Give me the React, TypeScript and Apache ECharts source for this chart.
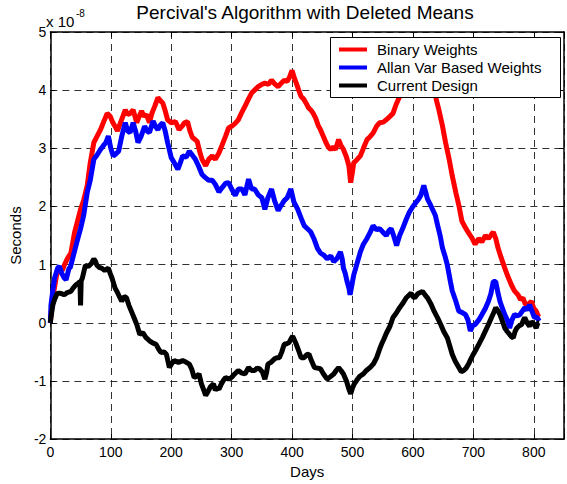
import { useEffect, useRef } from 'react';
import * as echarts from 'echarts';

// ---- Data (values in units of 1e-8 seconds) ----
const redDays = [0, 3, 6, 10, 15, 20, 23, 28, 34, 40, 45, 50, 55, 61, 66, 72, 77, 83, 88, 94, 99, 103, 107, 111, 115, 120, 124, 128, 132, 137, 143, 147, 151, 155, 159, 164, 168, 173, 178, 182, 186, 190, 194, 200, 207, 213, 218, 222, 227, 231, 235, 243, 247, 251, 257, 262, 268, 273, 279, 284, 290, 295, 300, 305, 311, 316, 322, 328, 333, 338, 344, 350, 355, 361, 366, 372, 377, 382, 387, 392, 396, 400, 404, 407, 411, 415, 419, 423, 427, 431, 435, 439, 443, 447, 452, 456, 460, 464, 468, 472, 477, 481, 485, 490, 494, 497, 500, 502, 507, 513, 518, 524, 529, 534, 540, 545, 551, 556, 562, 567, 572, 578, 585, 595, 605, 615, 625, 635, 640, 643, 649, 654, 660, 665, 671, 676, 681, 686, 690, 695, 698, 703, 709, 714, 720, 725, 730, 733, 737, 741, 746, 752, 757, 763, 768, 774, 778, 782, 786, 790, 796, 800, 804, 808];
const redVals = [0, 0.35, 0.55, 0.8, 0.95, 0.9, 0.99, 1.1, 1.2, 1.55, 1.75, 1.95, 2.1, 2.36, 2.75, 3.1, 3.2, 3.32, 3.45, 3.6, 3.55, 3.45, 3.38, 3.3, 3.41, 3.55, 3.66, 3.58, 3.6, 3.66, 3.44, 3.55, 3.64, 3.55, 3.58, 3.44, 3.6, 3.73, 3.87, 3.82, 3.78, 3.65, 3.49, 3.44, 3.46, 3.32, 3.38, 3.44, 3.46, 3.3, 3.19, 3.12, 2.95, 2.81, 2.7, 2.81, 2.87, 2.81, 2.92, 3.05, 3.21, 3.35, 3.38, 3.42, 3.49, 3.6, 3.72, 3.85, 3.95, 4.0, 4.06, 4.1, 4.12, 4.1, 4.17, 4.1, 4.06, 4.12, 4.17, 4.15, 4.23, 4.34, 4.2, 4.12, 4.0, 3.89, 3.85, 3.78, 3.7, 3.66, 3.6, 3.52, 3.4, 3.32, 3.2, 3.1, 3.02, 2.98, 3.02, 2.98, 3.15, 3.05, 2.98, 2.85, 2.7, 2.41, 2.6, 2.75, 2.8, 2.87, 3.0, 3.15, 3.2, 3.26, 3.38, 3.44, 3.45, 3.49, 3.55, 3.6, 3.75, 3.89, 4.1, 4.35, 4.5, 4.55, 4.4, 4.0, 3.78, 3.66, 3.38, 3.1, 2.81, 2.53, 2.24, 2.02, 1.75, 1.65, 1.58, 1.5, 1.45, 1.35, 1.45, 1.39, 1.5, 1.45, 1.52, 1.56, 1.45, 1.28, 1.12, 0.94, 0.8, 0.65, 0.55, 0.48, 0.4, 0.43, 0.32, 0.31, 0.37, 0.25, 0.2, 0.1];

const blueDays = [0, 1, 4, 7, 12, 15, 19, 23, 26, 31, 33, 38, 44, 50, 55, 61, 66, 72, 77, 83, 88, 92, 96, 100, 104, 108, 113, 118, 124, 128, 132, 137, 141, 145, 150, 156, 160, 164, 170, 174, 178, 182, 186, 190, 194, 200, 205, 211, 215, 219, 225, 230, 235, 240, 245, 251, 256, 262, 268, 273, 279, 284, 290, 295, 300, 306, 311, 317, 322, 328, 333, 338, 344, 350, 355, 360, 366, 371, 377, 382, 387, 392, 398, 403, 409, 415, 420, 425, 431, 436, 442, 447, 453, 458, 464, 469, 474, 480, 483, 485, 488, 491, 494, 496, 499, 502, 507, 513, 518, 524, 529, 534, 540, 545, 551, 556, 560, 564, 568, 573, 578, 583, 589, 594, 600, 605, 609, 613, 618, 621, 624, 628, 632, 637, 641, 645, 649, 653, 657, 662, 665, 671, 676, 681, 687, 691, 695, 699, 703, 709, 714, 720, 725, 729, 733, 737, 741, 744, 748, 752, 756, 760, 764, 768, 773, 777, 781, 785, 789, 793, 797, 801, 805, 809];
const blueVals = [0, 0.3, 0.55, 0.77, 0.94, 0.97, 0.85, 0.77, 0.74, 0.94, 0.95, 1.15, 1.39, 1.62, 1.84, 2.24, 2.45, 2.81, 2.88, 2.98, 3.05, 3.1, 3.21, 3.0, 2.87, 2.9, 2.95, 3.2, 3.44, 3.3, 3.27, 3.44, 3.3, 3.1, 3.2, 3.38, 3.3, 3.27, 3.47, 3.38, 3.32, 3.4, 3.44, 3.3, 3.1, 2.84, 2.75, 2.64, 2.75, 2.87, 2.85, 2.95, 2.88, 2.81, 2.7, 2.55, 2.5, 2.45, 2.45, 2.38, 2.25, 2.32, 2.4, 2.41, 2.3, 2.19, 2.3, 2.3, 2.2, 2.47, 2.3, 2.3, 2.2, 2.15, 1.95, 2.15, 2.3, 2.1, 1.93, 2.02, 2.1, 2.15, 2.3, 2.08, 1.96, 1.8, 1.67, 1.62, 1.56, 1.45, 1.28, 1.2, 1.16, 1.1, 1.15, 1.05, 1.1, 1.22, 1.1, 0.94, 0.85, 0.71, 0.6, 0.48, 0.65, 0.82, 1.0, 1.22, 1.35, 1.45, 1.55, 1.67, 1.6, 1.62, 1.55, 1.5, 1.58, 1.62, 1.5, 1.33, 1.5, 1.62, 1.78, 1.9, 2.0, 2.07, 2.12, 2.19, 2.36, 2.25, 2.13, 2.05, 1.96, 1.85, 1.67, 1.5, 1.28, 1.15, 0.99, 0.71, 0.55, 0.37, 0.2, 0.18, 0.14, 0.05, -0.14, -0.05, -0.03, 0.05, 0.14, 0.25, 0.37, 0.5, 0.71, 0.71, 0.5, 0.37, 0.25, 0.14, 0.05, -0.09, 0.05, 0.14, 0.12, 0.14, 0.2, 0.26, 0.22, 0.31, 0.2, 0.09, 0.1, 0.03];

const blackDays = [0, 1, 4, 7, 11, 15, 19, 23, 28, 34, 38, 42, 46, 49, 50, 51, 53, 58, 63, 68, 72, 75, 77, 81, 85, 90, 96, 99, 102, 107, 112, 118, 122, 126, 130, 134, 138, 143, 148, 153, 158, 164, 170, 175, 179, 183, 188, 192, 197, 201, 205, 212, 219, 225, 230, 234, 238, 242, 246, 250, 254, 257, 261, 265, 270, 273, 276, 279, 283, 287, 290, 295, 300, 305, 311, 316, 322, 328, 333, 338, 342, 346, 351, 355, 358, 360, 365, 371, 375, 379, 383, 387, 391, 395, 398, 401, 404, 407, 412, 415, 420, 424, 428, 432, 437, 442, 447, 452, 458, 463, 469, 473, 477, 481, 485, 490, 494, 497, 500, 503, 507, 512, 518, 523, 529, 535, 540, 545, 548, 552, 556, 562, 567, 572, 578, 583, 589, 593, 597, 600, 603, 608, 612, 616, 620, 624, 630, 635, 641, 646, 651, 657, 661, 665, 670, 676, 680, 684, 688, 692, 696, 700, 705, 709, 715, 720, 725, 730, 734, 737, 741, 744, 748, 752, 756, 760, 763, 766, 769, 772, 776, 780, 783, 785, 789, 793, 796, 798, 801, 804, 807, 809];
const blackVals = [0, 0.09, 0.3, 0.4, 0.5, 0.51, 0.5, 0.48, 0.52, 0.54, 0.6, 0.65, 0.68, 0.71, 0.3, 0.72, 0.77, 0.99, 0.97, 1.02, 1.1, 1.05, 0.99, 0.95, 0.94, 0.9, 0.94, 0.85, 0.77, 0.6, 0.5, 0.37, 0.45, 0.43, 0.3, 0.2, 0.1, -0.03, -0.2, -0.17, -0.25, -0.31, -0.35, -0.37, -0.45, -0.51, -0.5, -0.54, -0.77, -0.7, -0.65, -0.68, -0.65, -0.68, -0.71, -0.8, -0.94, -0.92, -0.88, -1.05, -1.16, -1.25, -1.18, -1.1, -1.05, -1.16, -1.12, -1.14, -1.05, -0.98, -0.94, -0.97, -0.94, -0.88, -0.82, -0.86, -0.88, -0.77, -0.82, -0.82, -0.78, -0.79, -0.85, -0.97, -0.85, -0.71, -0.68, -0.62, -0.6, -0.6, -0.5, -0.37, -0.36, -0.34, -0.28, -0.23, -0.3, -0.37, -0.51, -0.6, -0.6, -0.55, -0.54, -0.65, -0.77, -0.78, -0.79, -0.88, -0.97, -0.93, -0.88, -0.82, -0.77, -0.82, -0.88, -1.0, -1.14, -1.22, -1.12, -1.05, -0.99, -0.92, -0.88, -0.82, -0.77, -0.7, -0.6, -0.45, -0.37, -0.28, -0.18, -0.06, 0.09, 0.16, 0.26, 0.33, 0.43, 0.47, 0.51, 0.45, 0.43, 0.5, 0.52, 0.54, 0.48, 0.43, 0.32, 0.2, 0.08, -0.03, -0.15, -0.26, -0.4, -0.54, -0.66, -0.77, -0.84, -0.82, -0.78, -0.71, -0.62, -0.54, -0.45, -0.37, -0.25, -0.14, -0.03, 0.09, 0.18, 0.26, 0.2, 0.14, 0.03, -0.09, -0.15, -0.2, -0.24, -0.26, -0.15, -0.09, -0.05, -0.03, 0.05, 0.09, 0.0, -0.06, 0.02, 0.0, -0.03, -0.09, 0.0, 0.0];

const seriesNames = ['Binary Weights', 'Allan Var Based Weights', 'Current Design'];
const seriesColors = ['#ff0000', '#0000ff', '#000000'];
const titleText = "Percival's Algorithm with Deleted Means";
const xName = 'Days';
const yName = 'Seconds';

const FONT = "'Liberation Sans', Arial, Helvetica, sans-serif";

export default function App() {
  const ref = useRef<HTMLDivElement>(null);
  useEffect(() => {
    const chart = echarts.init(ref.current!, null, { renderer: 'svg' });
    const pair = (d: number[], v: number[]) => d.map((x, i) => [x, v[i]]);
    const seriesData = [pair(redDays, redVals), pair(blueDays, blueVals), pair(blackDays, blackVals)];
    const gridLine = { show: true, lineStyle: { color: '#333', type: [7, 5], width: 1 } };
    const axisLine = { show: true, onZero: false, lineStyle: { color: '#000', width: 1.5 } };
    const tick = { show: true, inside: true, length: 5, lineStyle: { color: '#000', width: 1 } };
    chart.setOption({
      animation: false,
      backgroundColor: '#ffffff',
      textStyle: { fontFamily: FONT },
      grid: { left: 46, right: 1, top: 32, bottom: 41, containLabel: false },
      xAxis: [
        {
          type: 'value', min: 0, max: 850, interval: 100, position: 'bottom',
          name: xName, nameLocation: 'middle', nameGap: 24,
          nameTextStyle: { fontSize: 15, color: '#000', fontFamily: FONT },
          axisLine, axisTick: tick,
          axisLabel: { color: '#000', fontSize: 14, margin: 6, fontFamily: FONT, formatter: (v: number) => (v > 800 ? '' : String(v)) },
          splitLine: gridLine,
        },
        {
          type: 'value', min: 0, max: 850, interval: 100, position: 'top',
          axisLine, axisTick: tick, axisLabel: { show: false }, splitLine: { show: false },
        },
      ],
      yAxis: [
        {
          type: 'value', min: -2, max: 5, interval: 1, position: 'left',
          name: yName, nameLocation: 'middle', nameGap: 22, nameRotate: 90,
          nameTextStyle: { fontSize: 15, color: '#000', fontFamily: FONT },
          axisLine, axisTick: tick,
          axisLabel: { color: '#000', fontSize: 14, margin: 4, fontFamily: FONT },
          splitLine: gridLine,
        },
        {
          type: 'value', min: -2, max: 5, interval: 1, position: 'right',
          axisLine, axisTick: tick, axisLabel: { show: false }, splitLine: { show: false },
        },
      ],
      legend: {
        orient: 'vertical', left: 330, top: 37, z: 10,
        padding: [5, 12, 5, 9], itemGap: 3, itemWidth: 28, itemHeight: 4,
        backgroundColor: 'transparent', borderWidth: 0,
        textStyle: { fontSize: 15, color: '#000', fontFamily: FONT, padding: [0, 0, 0, 5] },
        data: seriesNames.map((n) => ({ name: n, icon: 'rect' })),
      },
      graphic: [
        { type: 'rect', z: 5, shape: { x: 330.5, y: 37.5, width: 230, height: 60 }, style: { fill: '#ffffff', stroke: '#000', lineWidth: 1 } },
        { type: 'text', x: 305, y: 12, style: { text: titleText, fontSize: 19, fontFamily: FONT, fill: '#000', align: 'center', verticalAlign: 'middle' } },
        { type: 'text', x: 46, y: 21, style: { text: 'x 10', fontSize: 15, fontFamily: FONT, fill: '#000', align: 'left', verticalAlign: 'middle' } },
        { type: 'text', x: 76, y: 13, style: { text: '-8', fontSize: 10, fontFamily: FONT, fill: '#000', align: 'left', verticalAlign: 'middle' } },
      ],
      series: seriesNames.map((n, i) => ({
        name: n, type: 'line', data: seriesData[i], symbol: 'none', showSymbol: false,
        color: seriesColors[i], lineStyle: { color: seriesColors[i], width: 5 }, clip: true,
      })),
    });
    return () => chart.dispose();
  }, []);
  return <div ref={ref} style={{ position: 'absolute', left: 0, top: 0, width: 567, height: 484 }} />;
}
